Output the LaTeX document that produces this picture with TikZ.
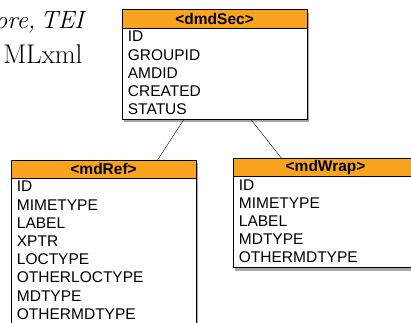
\documentclass[tikz,border=0pt]{standalone}
\usepackage{fontspec}
\setsansfont{Liberation Sans}
\usetikzlibrary{shadows}
\definecolor{hdorange}{RGB}{250,163,30}

\begin{document}
\begin{tikzpicture}[x=1pt,y=-1pt,
	head/.style={draw,line width=0.8pt,fill=hdorange,minimum width=185pt,minimum height=18pt,inner sep=0pt,anchor=north west,font=\sffamily\bfseries\fontsize{15.5}{18}\selectfont},
	frame/.style={draw,line width=0.8pt,fill=white,minimum width=185pt,inner sep=0pt,anchor=north west,drop shadow={shadow xshift=1.5pt,shadow yshift=-3pt,fill=black,opacity=.35}},
	field/.style={anchor=base west,inner sep=0pt,font=\sffamily\fontsize{15.5}{18}\selectfont}]
				\useasboundingbox (0,0) rectangle (411,322);
				\clip (0,0) rectangle (411,322);
				\node[anchor=base east,font=\fontsize{25}{34}\selectfont\itshape] (txta) at (87.3,28.3) {\spaceskip=5pt\relax ore, TEI};
				\node[anchor=base east,font=\fontsize{27}{34}\selectfont] (txtb) at (86,63.3) {MLxml};
				\node[frame,minimum height=109.7pt] (secbox) at (121.7,9.3) {};
				\node[head,minimum height=18.7pt] (sec) at (121.7,9.3) {<dmdSec>};
				\foreach \f [count=\i] in {ID,GROUPID,AMDID,CREATED,STATUS}
					\node[field] (sec-\i) at (127.7,{28+13.8+18.2*(\i-1)}) {\f};
				\node[frame,minimum height=170pt] (refbox) at (10.7,160) {};
				\node[head] (ref) at (10.7,160) {<mdRef>};
				\foreach \f [count=\i] in {ID,MIMETYPE,LABEL,XPTR,LOCTYPE,OTHERLOCTYPE,MDTYPE,OTHERMDTYPE}
					\node[field] (ref-\i) at (16.7,{178+13.8+18.2*(\i-1)}) {\f};
				\node[frame,minimum height=109pt] (wrapbox) at (232.7,158.3) {};
				\node[head] (wrap) at (232.7,158.3) {<mdWrap>};
				\foreach \f [count=\i] in {ID,MIMETYPE,LABEL,MDTYPE,OTHERMDTYPE}
					\node[field] (wrap-\i) at (238.7,{176.3+13.8+18.2*(\i-1)}) {\f};
				\draw ([xshift=-31pt]secbox.south) to ([xshift=54pt]ref.north);
				\draw ([xshift=36.5pt]secbox.south) to ([xshift=-44pt]wrap.north);
			\end{tikzpicture}
\end{document}
